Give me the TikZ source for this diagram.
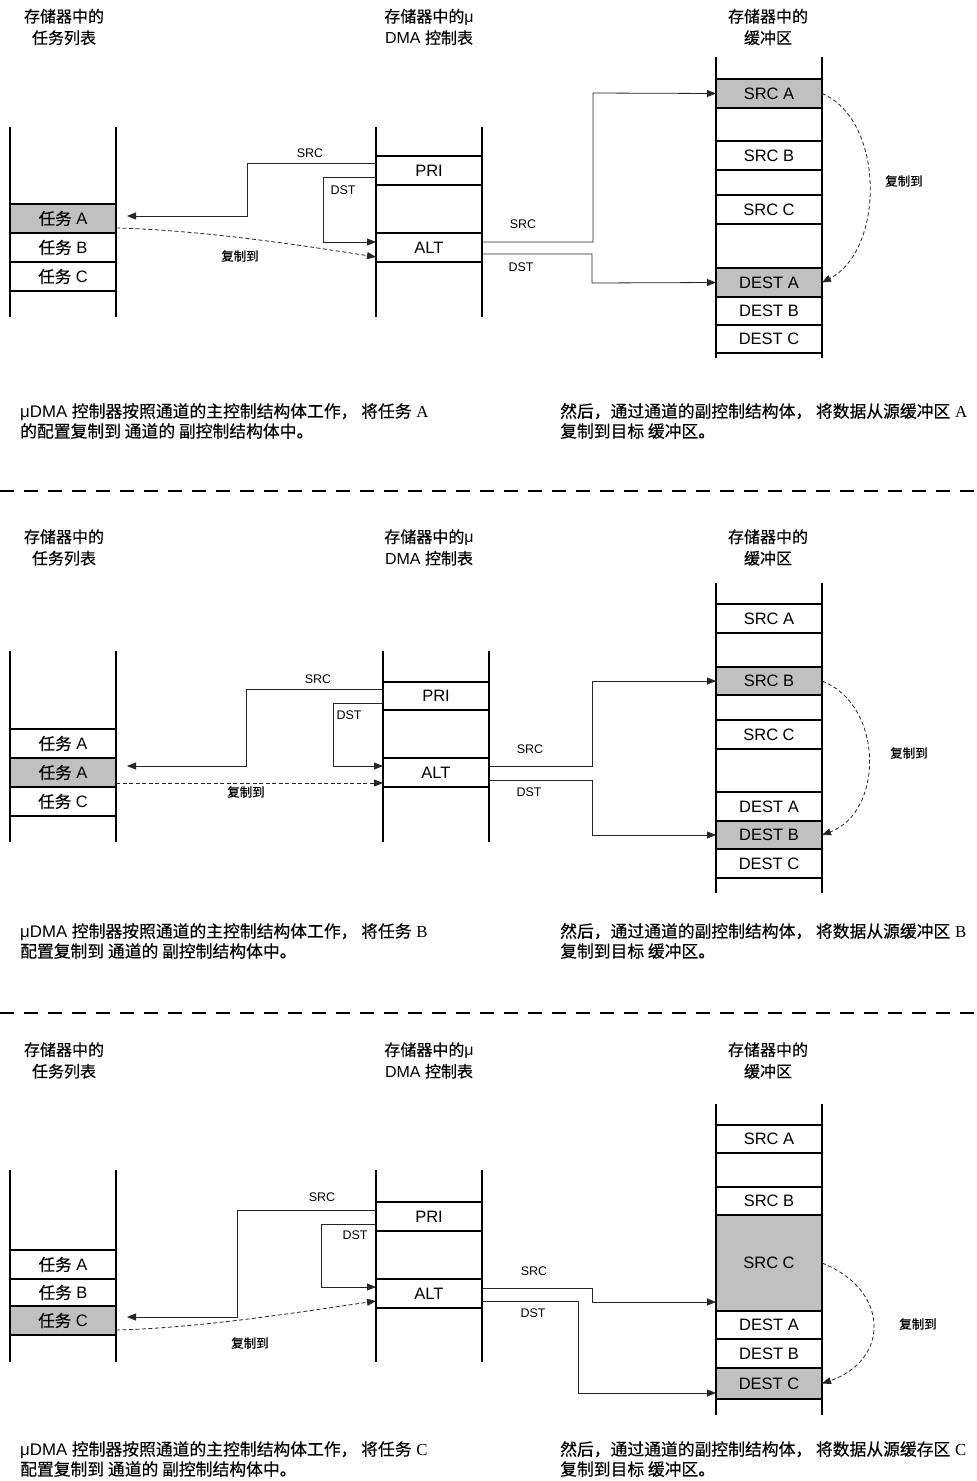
\documentclass[tikz,border=0pt]{standalone}
\usepackage{fontspec}
\setmainfont{Liberation Sans}
\newfontfamily\cjkfont{Noto Sans CJK SC}[FakeBold=0.35]
\newfontfamily\serifA{Liberation Serif}
\usetikzlibrary{arrows.meta}
\definecolor{cellgray}{RGB}{192,192,192}
\newcommand\zh[1]{{\cjkfont #1}}
\begin{document}
\begin{tikzpicture}[x=1pt,y=-1pt,
  colline/.style={line width=1.3pt},
  cell/.style={draw, line width=1.3pt, minimum width=106pt, inner sep=0pt, outer sep=0pt, anchor=north west, font=\fontsize{16.5}{19}\selectfont},
  hot/.style={fill=cellgray},
  conn/.style={line width=0.8pt, black!85},
  tip/.style={-{Triangle[length=9pt,width=7pt]}},
  copyline/.style={conn, dash pattern=on 4pt off 2.5pt},
  small/.style={font=\fontsize{12.5}{14}\selectfont, inner sep=0pt},
  head/.style={align=center, font=\fontsize{16}{21.5}\selectfont, inner sep=0pt},
  capt/.style={anchor=west, align=left, font=\fontsize{16.8}{20}\selectfont, inner sep=0pt},
  sep/.style={line width=1.3pt, dash pattern=on 14pt off 10pt}
]
\fill[white] (0,0) rectangle (977,1481);
\useasboundingbox (0,0) rectangle (977,1481);

%%%%%%%%%%%%%%%% PANEL 1
\node[head] (h1a) at (64,27) {\zh{存储器中的}\\\zh{任务列表}};
\node[head] (h1b) at (429,27) {\zh{存储器中的}μ\\DMA \zh{控制表}};
\node[head] (h1c) at (768,27) {\zh{存储器中的}\\\zh{缓冲区}};

\draw[colline] (10,127) -- (10,317) (116,127) -- (116,317);
\draw[colline] (376,127) -- (376,317) (482,127) -- (482,317);
\draw[colline] (716,57) -- (716,358) (822,57) -- (822,358);

\node[cell,hot,minimum height=29pt] (ta1) at (10,204) {\zh{任务} A};
\node[cell,minimum height=29pt] (tb1) at (10,233) {\zh{任务} B};
\node[cell,minimum height=29pt] (tc1) at (10,262) {\zh{任务} C};
\node[cell,minimum height=29pt] (pri1) at (376,156) {PRI};
\node[cell,minimum height=29pt] (alt1) at (376,233) {ALT};
\node[cell,hot,minimum height=29pt] (sa1) at (716,79) {SRC A};
\node[cell,minimum height=29pt] (sb1) at (716,141) {SRC B};
\node[cell,minimum height=29pt] (sc1) at (716,195) {SRC C};
\node[cell,hot,minimum height=29pt] (da1) at (716,268) {DEST A};
\node[cell,minimum height=28pt] (db1) at (716,297) {DEST B};
\node[cell,minimum height=28pt] (dc1) at (716,325) {DEST C};

\coordinate (e1) at (127,216);
\draw[conn,tip] (pri1.west |- 0,163) -| (247,216) -- (e1);
\draw[conn,tip] (pri1.west |- 0,177) -| (323,242) -- (alt1.west |- 0,242);
\draw[copyline,tip] (ta1.east |- 0,228) .. controls (200,230) and (300,245) .. (alt1.west |- 0,257);
\draw[conn,tip] (alt1.east |- 0,242) -| (593,93) -- (sa1.west);
\draw[conn,tip] (alt1.east |- 0,254) -| (592,283) -- (da1.west);
\draw[copyline,tip] (sa1.east) .. controls (885,120) and (885,250) .. (da1.east);

\node[small] (ls1) at (310,153) {SRC};
\node[small] (ld1) at (343,190) {DST};
\node[small] (lc1) at (240,256) {\zh{复制到}};
\node[small] (rs1) at (523,224) {SRC};
\node[small] (rd1) at (521,267) {DST};
\node[small] (rc1) at (904,181) {\zh{复制到}};

\node[capt] (c1a) at (20,421) {μDMA \zh{控制器按照通道的主控制结构体工作， 将任务} {\serifA A}\\\zh{的配置复制到 通道的 副控制结构体中。}};
\node[capt] (c1b) at (560,421) {\zh{然后，通过通道的副控制结构体， 将数据从源缓冲区} {\serifA A}\\\zh{复制到目标 缓冲区。}};

\draw[sep] (0,491) -- (977,491);

%%%%%%%%%%%%%%%% PANEL 2
\node[head] (h2a) at (64,547.5) {\zh{存储器中的}\\\zh{任务列表}};
\node[head] (h2b) at (429,547.5) {\zh{存储器中的}μ\\DMA \zh{控制表}};
\node[head] (h2c) at (768,547.5) {\zh{存储器中的}\\\zh{缓冲区}};

\draw[colline] (10,651) -- (10,842) (116,651) -- (116,842);
\draw[colline] (383,651) -- (383,842) (489,651) -- (489,842);
\draw[colline] (716,583) -- (716,893) (822,583) -- (822,893);

\node[cell,minimum height=29pt] (ta2) at (10,729) {\zh{任务} A};
\node[cell,hot,minimum height=29pt] (tb2) at (10,758) {\zh{任务} A};
\node[cell,minimum height=29pt] (tc2) at (10,787) {\zh{任务} C};
\node[cell,minimum height=28pt] (pri2) at (383,682) {PRI};
\node[cell,minimum height=29pt] (alt2) at (383,758) {ALT};
\node[cell,minimum height=29pt] (sa2) at (716,604) {SRC A};
\node[cell,hot,minimum height=28pt] (sb2) at (716,667) {SRC B};
\node[cell,minimum height=29pt] (sc2) at (716,720) {SRC C};
\node[cell,minimum height=29pt] (da2) at (716,792) {DEST A};
\node[cell,hot,minimum height=28pt] (db2) at (716,821) {DEST B};
\node[cell,minimum height=29pt] (dc2) at (716,849) {DEST C};

\coordinate (e2) at (127,766);
\draw[conn,tip] (pri2.west |- 0,689) -| (246,766) -- (e2);
\draw[conn,tip] (pri2.west |- 0,703) -| (333,766) -- (alt2.west |- 0,766);
\draw[copyline,tip] (tb2.east |- 0,783) -- (alt2.west |- 0,783);
\draw[conn,tip] (alt2.east |- 0,766) -| (592,681) -- (sb2.west);
\draw[conn,tip] (alt2.east |- 0,780) -| (592,835) -- (db2.west);
\draw[copyline,tip] (sb2.east) .. controls (884,705) and (884,812) .. (db2.east);

\node[small] (ls2) at (318,679) {SRC};
\node[small] (ld2) at (349,715) {DST};
\node[small] (lc2) at (246,792) {\zh{复制到}};
\node[small] (rs2) at (530,749) {SRC};
\node[small] (rd2) at (529,792) {DST};
\node[small] (rc2) at (909,753) {\zh{复制到}};

\node[capt] (c2a) at (20,941) {μDMA \zh{控制器按照通道的主控制结构体工作， 将任务} {\serifA B}\\\zh{配置复制到 通道的 副控制结构体中。}};
\node[capt] (c2b) at (560,941) {\zh{然后，通过通道的副控制结构体， 将数据从源缓冲区} {\serifA B}\\\zh{复制到目标 缓冲区。}};

\draw[sep] (0,1013) -- (977,1013);

%%%%%%%%%%%%%%%% PANEL 3
\node[head] (h3a) at (64,1060.5) {\zh{存储器中的}\\\zh{任务列表}};
\node[head] (h3b) at (429,1060.5) {\zh{存储器中的}μ\\DMA \zh{控制表}};
\node[head] (h3c) at (768,1060.5) {\zh{存储器中的}\\\zh{缓冲区}};

\draw[colline] (10,1170) -- (10,1362) (116,1170) -- (116,1362);
\draw[colline] (376,1170) -- (376,1362) (482,1170) -- (482,1362);
\draw[colline] (716,1104) -- (716,1415) (822,1104) -- (822,1415);

\node[cell,minimum height=29pt] (ta3) at (10,1250) {\zh{任务} A};
\node[cell,minimum height=27pt] (tb3) at (10,1279) {\zh{任务} B};
\node[cell,hot,minimum height=29pt] (tc3) at (10,1306) {\zh{任务} C};
\node[cell,minimum height=29pt] (pri3) at (376,1202) {PRI};
\node[cell,minimum height=29pt] (alt3) at (376,1279) {ALT};
\node[cell,minimum height=28pt] (sa3) at (716,1125) {SRC A};
\node[cell,minimum height=28pt] (sb3) at (716,1187) {SRC B};
\node[cell,hot,minimum height=96pt] (sc3) at (716,1215) {SRC C};
\node[cell,minimum height=28pt] (da3) at (716,1311) {DEST A};
\node[cell,minimum height=29pt] (db3) at (716,1339) {DEST B};
\node[cell,hot,minimum height=31pt] (dc3) at (716,1368) {DEST C};

\coordinate (e3) at (127,1317);
\draw[conn,tip] (pri3.west |- 0,1210) -| (237,1317) -- (e3);
\draw[conn,tip] (pri3.west |- 0,1224) -| (321,1287) -- (alt3.west |- 0,1287);
\draw[copyline,tip] (tc3.east |- 0,1330) .. controls (200,1328) and (300,1312) .. (alt3.west |- 0,1301);
\draw[conn,tip] (alt3.east |- 0,1288) -| (592,1302) -- (sc3.west |- 0,1302);
\draw[conn,tip] (alt3.east |- 0,1301) -| (578,1393) -- (dc3.west |- 0,1393);
\draw[copyline,tip] (sc3.east) .. controls (890,1290) and (890,1360) .. (dc3.east);

\node[small] (ls3) at (322,1197) {SRC};
\node[small] (ld3) at (355,1235) {DST};
\node[small] (lc3) at (250,1343) {\zh{复制到}};
\node[small] (rs3) at (534,1271) {SRC};
\node[small] (rd3) at (533,1313) {DST};
\node[small] (rc3) at (918,1324) {\zh{复制到}};

\node[capt] (c3a) at (20,1459) {μDMA \zh{控制器按照通道的主控制结构体工作， 将任务} {\serifA C}\\\zh{配置复制到 通道的 副控制结构体中。}};
\node[capt] (c3b) at (560,1459) {\zh{然后，通过通道的副控制结构体， 将数据从源缓存区} {\serifA C}\\\zh{复制到目标 缓冲区。}};
\end{tikzpicture}
\end{document}
